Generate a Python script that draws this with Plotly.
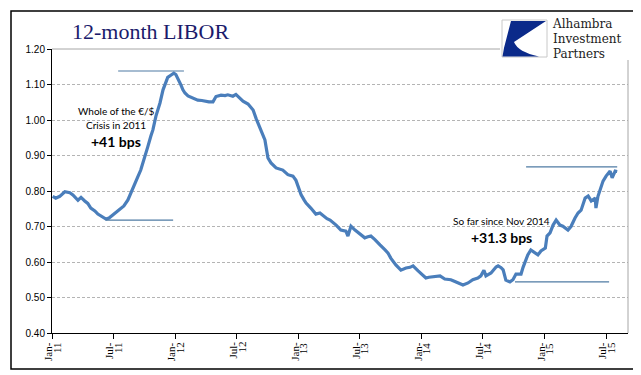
import plotly.graph_objects as go

# ---------------- data ----------------
dates = [
    "2011-01-03", "2011-01-12", "2011-01-24", "2011-02-08", "2011-02-23", "2011-03-04", "2011-03-19", "2011-03-28",
    "2011-04-08", "2011-04-17", "2011-04-26", "2011-05-08", "2011-05-17", "2011-06-01", "2011-06-10", "2011-06-19",
    "2011-06-27", "2011-07-09", "2011-07-21", "2011-08-02", "2011-08-14", "2011-08-23", "2011-09-01", "2011-09-10",
    "2011-09-21", "2011-10-03", "2011-10-12", "2011-10-21", "2011-10-27", "2011-11-05", "2011-11-17", "2011-11-26",
    "2011-12-05", "2011-12-10", "2011-12-19", "2011-12-28", "2012-01-03", "2012-01-09", "2012-01-18", "2012-01-24",
    "2012-01-30", "2012-02-08", "2012-02-23", "2012-03-08", "2012-03-20", "2012-03-29", "2012-04-10", "2012-04-22",
    "2012-05-01", "2012-05-16", "2012-05-28", "2012-06-05", "2012-06-20", "2012-06-29", "2012-07-08", "2012-07-20",
    "2012-08-04", "2012-08-19", "2012-08-28", "2012-09-05", "2012-09-14", "2012-09-23", "2012-10-02", "2012-10-11",
    "2012-10-26", "2012-11-06", "2012-11-15", "2012-11-30", "2012-12-15", "2012-12-24", "2012-12-30", "2013-01-08",
    "2013-01-17", "2013-01-23", "2013-02-06", "2013-02-21", "2013-03-05", "2013-03-14", "2013-03-26", "2013-04-04",
    "2013-04-13", "2013-04-22", "2013-05-06", "2013-05-21", "2013-05-27", "2013-06-05", "2013-06-17", "2013-07-02",
    "2013-07-16", "2013-07-25", "2013-08-03", "2013-08-15", "2013-08-24", "2013-08-30", "2013-09-14", "2013-09-23",
    "2013-10-01", "2013-10-16", "2013-10-31", "2013-11-15", "2013-11-27", "2013-12-06", "2013-12-21", "2014-01-02",
    "2014-01-13", "2014-01-22", "2014-02-03", "2014-02-12", "2014-02-24", "2014-03-10", "2014-03-28", "2014-04-09",
    "2014-04-18", "2014-05-03", "2014-05-18", "2014-06-01", "2014-06-16", "2014-06-25", "2014-07-04", "2014-07-10",
    "2014-07-25", "2014-08-09", "2014-08-15", "2014-08-24", "2014-08-30", "2014-09-07", "2014-09-19", "2014-09-28",
    "2014-10-07", "2014-10-22", "2014-10-28", "2014-11-03", "2014-11-11", "2014-11-20", "2014-12-02", "2014-12-11",
    "2014-12-20", "2015-01-02", "2015-01-07", "2015-01-16", "2015-01-25", "2015-02-03", "2015-02-14", "2015-02-23",
    "2015-03-10", "2015-03-19", "2015-03-31", "2015-04-09", "2015-04-18", "2015-04-24", "2015-04-30", "2015-05-09",
    "2015-05-18", "2015-05-30", "2015-06-01", "2015-06-07", "2015-06-13", "2015-06-22", "2015-07-01", "2015-07-13",
    "2015-07-19", "2015-07-28", "2015-08-03",
]
libor = [
    0.785, 0.780, 0.785, 0.798, 0.795, 0.789, 0.774, 0.782,
    0.772, 0.765, 0.752, 0.744, 0.735, 0.727, 0.721, 0.724,
    0.730, 0.738, 0.748, 0.758, 0.775, 0.797, 0.815, 0.835,
    0.859, 0.893, 0.925, 0.955, 0.972, 1.011, 1.048, 1.085,
    1.108, 1.120, 1.126, 1.132, 1.128, 1.118, 1.099, 1.085,
    1.076, 1.068, 1.062, 1.056, 1.055, 1.053, 1.051, 1.051,
    1.066, 1.070, 1.069, 1.071, 1.067, 1.072, 1.065, 1.053,
    1.045, 1.028, 1.004, 0.985, 0.964, 0.944, 0.893, 0.879,
    0.865, 0.861, 0.859, 0.846, 0.842, 0.830, 0.814, 0.790,
    0.775, 0.766, 0.752, 0.735, 0.738, 0.730, 0.722, 0.718,
    0.712, 0.704, 0.690, 0.687, 0.673, 0.701, 0.690, 0.680,
    0.668, 0.671, 0.673, 0.663, 0.652, 0.648, 0.634, 0.625,
    0.611, 0.592, 0.577, 0.583, 0.585, 0.589, 0.575, 0.566,
    0.555, 0.557, 0.558, 0.560, 0.561, 0.552, 0.550, 0.545,
    0.541, 0.535, 0.541, 0.550, 0.555, 0.561, 0.577, 0.561,
    0.569, 0.586, 0.589, 0.584, 0.578, 0.549, 0.544, 0.550,
    0.566, 0.566, 0.585, 0.603, 0.620, 0.634, 0.625, 0.620,
    0.631, 0.639, 0.673, 0.682, 0.704, 0.718, 0.704, 0.701,
    0.690, 0.700, 0.724, 0.738, 0.746, 0.765, 0.780, 0.786,
    0.772, 0.780, 0.752, 0.785, 0.800, 0.828, 0.842, 0.856,
    0.837, 0.856, 0.855,
]

# reference (level) lines: start date, end date, level
ref_starts = ["2011-07-16", "2011-06-09", "2014-11-06", "2014-10-04"]
ref_ends = ["2012-01-27", "2011-12-26", "2015-08-03", "2015-07-10"]
ref_levels = [1.138, 0.718, 0.868, 0.544]

tick_dates = ["2011-01-01", "2011-07-01", "2012-01-01", "2012-07-01", "2013-01-01",
              "2013-07-01", "2014-01-01", "2014-07-01", "2015-01-01", "2015-07-01"]
tick_months = ["Jan-", "Jul-", "Jan-", "Jul-", "Jan-", "Jul-", "Jan-", "Jul-", "Jan-", "Jul-"]
tick_years = ["11", "11", "12", "12", "13", "13", "14", "14", "15", "15"]
y_ticks = [0.40, 0.50, 0.60, 0.70, 0.80, 0.90, 1.00, 1.10, 1.20]

# ---------------- layout helpers (pixel -> paper) ----------------
W, H = 641, 375
L, R, T, B = 44, 620, 41, 325


def px(x):
    return (x - L) / (R - L)


def py(y):
    return (B - y) / (B - T)


fig = go.Figure()

fig.add_trace(go.Scatter(x=dates, y=libor, mode="lines",
                         line=dict(color="#4A7EBB", width=3.2), hoverinfo="skip",
                         showlegend=False))

for s, e, v in zip(ref_starts, ref_ends, ref_levels):
    fig.add_trace(go.Scatter(x=[s, e], y=[v, v], mode="lines",
                             line=dict(color="#4F7BA3", width=1.2),
                             showlegend=False, hoverinfo="skip"))

shapes = []
# outer frame
shapes.append(dict(type="rect", xref="paper", yref="paper",
                   x0=px(3), x1=px(637), y0=py(361), y1=py(3),
                   line=dict(color="black", width=1.5), fillcolor="rgba(0,0,0,0)", layer="above"))
# white area behind logo (hides the top gridline)
shapes.append(dict(type="rect", xref="paper", yref="paper",
                   x0=px(492), x1=px(623), y0=py(52), y1=py(6),
                   line=dict(width=0), fillcolor="white", layer="above"))
# plot area border: top (solid) and right
shapes.append(dict(type="line", xref="paper", yref="paper",
                   x0=0, x1=px(492), y0=1, y1=1,
                   line=dict(color="#A6A6A6", width=1), layer="above"))
shapes.append(dict(type="line", xref="paper", yref="paper",
                   x0=1, x1=1, y0=0, y1=py(52),
                   line=dict(color="#A6A6A6", width=1), layer="above"))
# logo box
shapes.append(dict(type="rect", xref="paper", yref="paper",
                   x0=px(494), x1=px(539), y0=py(49), y1=py(12),
                   line=dict(color="#C8C8C8", width=1), fillcolor="white", layer="above"))
# logo swoosh
pts = [(538, 13), (503, 13), (496, 40), (494.5, 48.5), (531, 48.5)]
path = "M {:.5f},{:.5f} ".format(px(pts[0][0]), py(pts[0][1]))
for (a, b) in pts[1:]:
    path += "L {:.5f},{:.5f} ".format(px(a), py(b))
path += "Q {:.5f},{:.5f} {:.5f},{:.5f} ".format(px(510), py(44), px(506), py(34))
path += "Z"
shapes.append(dict(type="path", xref="paper", yref="paper", path=path,
                   fillcolor="#0B2A8A", line=dict(width=0), layer="above"))

annotations = []
annotations.append(dict(text="12-month LIBOR", xref="paper", yref="paper",
                        x=px(62), y=py(24), xanchor="left", yanchor="middle",
                        showarrow=False,
                        font=dict(family="Liberation Serif", size=22, color="#1B1B6B")))
# logo wordmark
logo_words = ["Alhambra", "Investment", "Partners"]
logo_text = "<br>".join('<span style="font-size:12px">{}</span>'.format(w) for w in logo_words)
annotations.append(dict(text=logo_text, xref="paper", yref="paper",
                        x=px(542), y=py(31), xanchor="left", yanchor="middle", align="left",
                        showarrow=False,
                        font=dict(family="DejaVu Serif", size=11.5, color="#222222")))

note_font = dict(family="Lato", size=10, color="black")
big_font = dict(family="Lato", size=14, color="black")
annotations.append(dict(text="Whole of the €/$", xref="paper", yref="paper",
                        x=px(108), y=py(103), xanchor="center", yanchor="middle",
                        showarrow=False, font=note_font))
annotations.append(dict(text="Crisis in 2011", xref="paper", yref="paper",
                        x=px(108), y=py(117), xanchor="center", yanchor="middle",
                        showarrow=False, font=note_font))
annotations.append(dict(text="<b>+41 bps</b>", xref="paper", yref="paper",
                        x=px(108), y=py(133), xanchor="center", yanchor="middle",
                        showarrow=False, font=big_font))
annotations.append(dict(text="So far since Nov 2014", xref="paper", yref="paper",
                        x=px(493), y=py(213), xanchor="center", yanchor="middle",
                        showarrow=False, font=note_font))
annotations.append(dict(text="<b>+31.3 bps</b>", xref="paper", yref="paper",
                        x=px(493), y=py(229), xanchor="center", yanchor="middle",
                        showarrow=False, font=big_font))

# x tick labels: two rotated columns ("Jan-" then "11") per tick
tick_font = dict(family="Liberation Serif", size=11, color="black")
for d, m, yv in zip(tick_dates, tick_months, tick_years):
    annotations.append(dict(text=m, xref="x", yref="paper", x=d, y=py(332),
                            xanchor="center", yanchor="top", textangle=-90,
                            xshift=-4.5, showarrow=False, font=tick_font))
    annotations.append(dict(text=yv, xref="x", yref="paper", x=d, y=py(332),
                            xanchor="center", yanchor="top", textangle=-90,
                            xshift=4.5, showarrow=False, font=tick_font))

fig.update_layout(
    width=W, height=H,
    margin=dict(l=L, r=W - R, t=T, b=H - B, pad=0),
    paper_bgcolor="white", plot_bgcolor="white",
    showlegend=False,
    shapes=shapes, annotations=annotations,
    xaxis=dict(type="date", range=["2011-01-01", "2015-09-04"],
               tickvals=tick_dates, showticklabels=False,
               ticks="outside", ticklen=5, tickcolor="black", tickwidth=1,
               showline=True, linecolor="black", linewidth=1,
               showgrid=False, zeroline=False),
    yaxis=dict(range=[0.40, 1.20], tickvals=y_ticks, tickformat=".2f",
               tickfont=dict(family="Liberation Sans", size=10, color="black"),
               ticks="outside", ticklen=4, tickcolor="black", tickwidth=1,
               showline=True, linecolor="black", linewidth=1,
               showgrid=True, gridcolor="#B4B4B4", gridwidth=1, griddash="3px,2px",
               zeroline=False),
)

fig.write_html("out.html")
